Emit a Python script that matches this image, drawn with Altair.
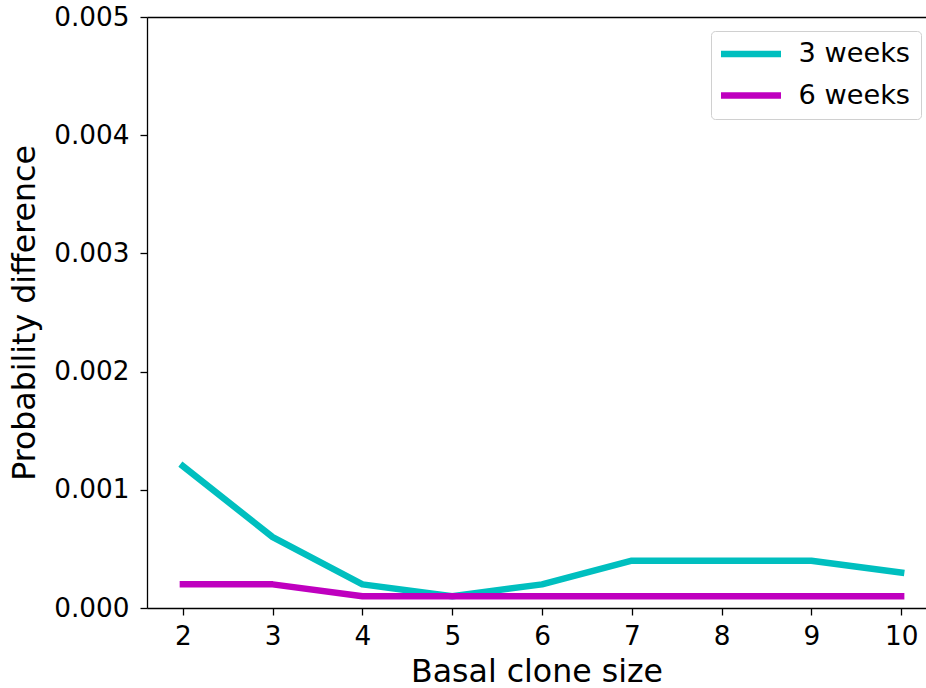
import altair as alt
import pandas as pd

sizes = [2, 3, 4, 5, 6, 7, 8, 9, 10]
weeks3 = [0.0012, 0.0006, 0.0002, 0.0001, 0.0002, 0.0004, 0.0004, 0.0004, 0.0003]
weeks6 = [0.0002, 0.0002, 0.0001, 0.0001, 0.0001, 0.0001, 0.0001, 0.0001, 0.0001]
series = ["3 weeks", "6 weeks"]
colors = ["#00bfbf", "#bf00bf"]
y_ticks = [0.0, 0.001, 0.002, 0.003, 0.004, 0.005]

df = pd.DataFrame({
    "size": sizes + sizes,
    "value": weeks3 + weeks6,
    "series": [series[0]] * len(sizes) + [series[1]] * len(sizes),
})

FONT = "DejaVu Sans"
LW = 6.5
xscale = alt.Scale(domain=[1.6, 10.277], nice=False, zero=False)
yscale = alt.Scale(domain=[0, 0.005], nice=False, zero=False)

lines = alt.Chart(df).mark_line(strokeWidth=LW, strokeCap="square", strokeJoin="round").encode(
    x=alt.X("size:Q", scale=xscale,
            axis=alt.Axis(values=sizes, title="Basal clone size", format="d",
                          labelPadding=8, titlePadding=7)),
    y=alt.Y("value:Q", scale=yscale,
            axis=alt.Axis(values=y_ticks, format=".3f", title="Probability difference",
                          labelPadding=11, titlePadding=12.5)),
    color=alt.Color("series:N", scale=alt.Scale(domain=series, range=colors),
                    legend=alt.Legend(orient="none", legendX=564, legendY=14, title=None,
                                      symbolType="stroke", symbolSize=3844,
                                      symbolStrokeWidth=LW, symbolOffset=-5.5,
                                      clipHeight=26, rowPadding=13.5,
                                      padding=10, labelFontSize=27.2, labelFont=FONT,
                                      labelOffset=14, labelColor="black",
                                      strokeColor="#d0d0d0", fillColor="rgba(255,255,255,0.8)",
                                      cornerRadius=4)),
)

top = alt.Chart(df).mark_point(opacity=0).encode(
    x=alt.X("size:Q", scale=xscale,
            axis=alt.Axis(orient="top", labels=False, ticks=False, title=None, domain=True)),
    y=alt.Y("value:Q", scale=yscale),
)

chart = alt.layer(lines, top).resolve_axis(x="independent").properties(
    width=779, height=591,
    autosize=alt.AutoSizeParams(type="none"),
    padding={"left": 147, "top": 17, "right": 0, "bottom": 80},
).configure_view(stroke=None).configure_axis(
    domainColor="black", domainWidth=1.3, tickColor="black", tickWidth=1.3, tickSize=7,
    labelFont=FONT, labelFontSize=26.3, labelColor="black",
    titleFont=FONT, titleFontSize=31.6, titleFontWeight="normal", titleColor="black",
    grid=False,
)

chart.save("out.html", embed_options={"renderer": "svg", "actions": False})
